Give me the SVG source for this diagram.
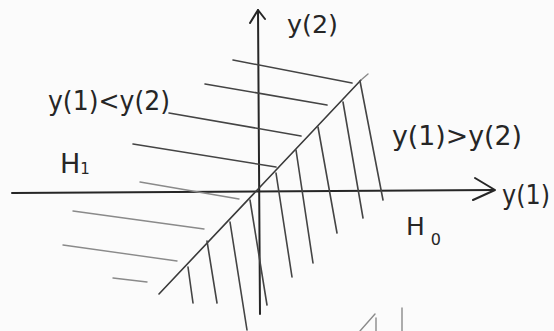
<svg xmlns="http://www.w3.org/2000/svg" width="554" height="331" viewBox="0 0 554 331">
<style>
.ax{stroke:#262626;stroke-width:2;fill:none;stroke-linecap:round;stroke-linejoin:round}
.dg{stroke:#3a3a3a;stroke-width:1.6;fill:none;stroke-linecap:round}
.h{stroke:#444;stroke-width:1.6;fill:none;stroke-linecap:round}
.hl{stroke:#8a8a8a;stroke-width:1.4;fill:none;stroke-linecap:round}
.t{font-family:"DejaVu Sans","Liberation Sans",sans-serif;fill:#262626}
</style>
<rect width="554" height="331" fill="#fbfbfb"/>
<g id="axes">
<path class="ax" d="M12,193 L494,190"/>
<path class="ax" d="M475,178 L495,190 L473,200"/>
<path class="ax" d="M258,10 L260,314"/>
<path class="ax" d="M250,23 L258,10 L265,19"/>
</g>
<g id="boundary">
<path class="dg" d="M159,294 L361,80"/>
<path class="hl" d="M361,80 L368,74"/>
</g>
<g id="hatch-upper-left">
<path class="h" d="M233,60 L352,83"/>
<path class="h" d="M205,84 L327,105"/>
<path class="h" d="M169,113 L301,136"/>
<path class="h" d="M133,144 L276,167"/>
</g>
<g id="hatch-upper-right">
<path class="h" d="M360,81 L383,200"/>
<path class="h" d="M343,102 L363,218"/>
<path class="h" d="M318,127 L337,233"/>
<path class="h" d="M296,150 L313,263"/>
<path class="h" d="M276,173 L292,277"/>
</g>
<g id="hatch-lower-left">
<path class="hl" d="M140,182 L239,199"/>
<path class="hl" d="M73,211 L204,229"/>
<path class="hl" d="M63,245 L177,261"/>
<path class="hl" d="M113,278 L147,282"/>
<path class="h" d="M250,200 L267,305"/>
<path class="h" d="M230,222 L247,330"/>
<path class="h" d="M207,241 L217,303"/>
<path class="h" d="M188,267 L193,303"/>
</g>
<g id="marks">
<path class="hl" d="M375,314 L360,331"/>
<path class="hl" d="M376,318 L376,331"/>
<path class="hl" d="M402,308 L402,331"/>
</g>
<g id="labels">
<text class="t" x="287" y="33" font-size="25" textLength="51" lengthAdjust="spacingAndGlyphs">y(2)</text>
<text class="t" x="502" y="204" font-size="26" textLength="48" lengthAdjust="spacingAndGlyphs">y(1)</text>
<text class="t" x="48" y="110" font-size="26" textLength="122" lengthAdjust="spacingAndGlyphs">y(1)&lt;y(2)</text>
<text class="t" x="392" y="145" font-size="26" textLength="130" lengthAdjust="spacingAndGlyphs">y(1)&gt;y(2)</text>
<text class="t" x="60" y="173" font-size="27">H<tspan font-size="15" dy="1">1</tspan></text>
<text class="t" x="406" y="235" font-size="25">H<tspan font-size="16" dx="6" dy="10">0</tspan></text>
</g>
</svg>
